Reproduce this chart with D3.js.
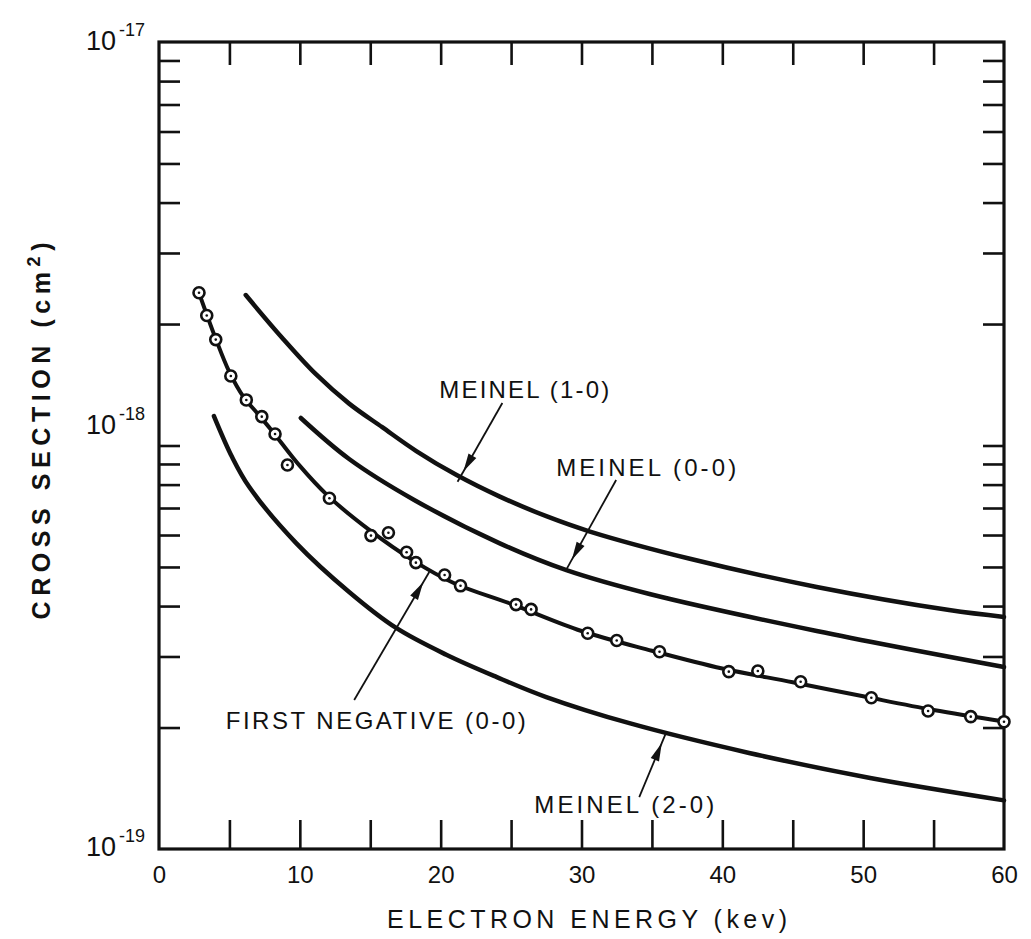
<!DOCTYPE html>
<html><head><meta charset="utf-8">
<script src="https://cdn.jsdelivr.net/npm/d3@7"></script>
<style>body{margin:0;background:#fff}svg text{font-family:"Liberation Sans",Arial,sans-serif;fill:#111}</style>
</head><body><svg id="c" width="1031" height="939"></svg>
<script>
// ---------- data ----------
const energyTickLabels = [0, 10, 20, 30, 40, 50, 60];
const energyMinorTicks = [5, 10, 15, 20, 25, 30, 35, 40, 45, 50, 55];
const decadeLabels = [{v: 1e-17, exp: "-17"}, {v: 1e-18, exp: "-18"}, {v: 1e-19, exp: "-19"}];

// MEINEL (1-0)
const meinel10E = [6.16, 8.74, 11.16, 13.5, 15.85, 18.27, 21.1, 24.2, 27.5, 30.6, 37.7, 46.7, 56.1, 60];
const meinel10S = [2.36e-18, 1.85e-18, 1.50e-18, 1.27e-18, 1.11e-18, 0.969e-18, 0.846e-18, 0.747e-18, 0.668e-18, 0.612e-18, 0.524e-18, 0.446e-18, 0.391e-18, 0.376e-18];
// MEINEL (0-0)
const meinel00E = [10.07, 13.5, 18.12, 24.16, 28.93, 34.83, 46.7, 60];
const meinel00S = [1.17e-18, 0.926e-18, 0.733e-18, 0.573e-18, 0.491e-18, 0.4285e-18, 0.347e-18, 0.2825e-18];
// MEINEL (2-0)
const meinel20E = [3.9, 5.19, 6.4, 9.74, 13.5, 16.84, 20.4, 23.95, 27.5, 33.4, 41.9, 50.5, 60];
const meinel20S = [1.183e-18, 0.936e-18, 0.79e-18, 0.573e-18, 0.4335e-18, 0.353e-18, 0.303e-18, 0.267e-18, 0.238e-18, 0.205e-18, 0.173e-18, 0.150e-18, 0.132e-18];
// FIRST NEGATIVE (0-0) measured points
const firstNegE = [2.84, 3.39, 4.03, 5.10, 6.20, 7.30, 8.24, 9.12, 12.1, 15.05, 16.29, 17.58, 18.24, 20.28, 21.41, 25.35, 26.42, 30.44, 32.5, 35.54, 40.46, 42.52, 45.56, 50.58, 54.61, 57.64, 60];
const firstNegS = [2.39e-18, 2.10e-18, 1.83e-18, 1.487e-18, 1.297e-18, 1.179e-18, 1.068e-18, 0.895e-18, 0.740e-18, 0.598e-18, 0.608e-18, 0.544e-18, 0.5125e-18, 0.4776e-18, 0.449e-18, 0.4034e-18, 0.3925e-18, 0.3424e-18, 0.3286e-18, 0.3083e-18, 0.2751e-18, 0.2762e-18, 0.2598e-18, 0.2371e-18, 0.2198e-18, 0.2128e-18, 0.2068e-18];
// FIRST NEGATIVE (0-0) drawn curve
const firstNegFitE = [2.84, 4, 5, 6, 7, 8, 10, 12, 15, 18, 21, 25, 30, 35, 40, 45, 50, 55, 60];
const firstNegFitS = [2.39e-18, 1.85e-18, 1.52e-18, 1.32e-18, 1.20e-18, 1.09e-18, 0.89e-18, 0.75e-18, 0.615e-18, 0.52e-18, 0.455e-18, 0.405e-18, 0.347e-18, 0.31e-18, 0.28e-18, 0.259e-18, 0.239e-18, 0.221e-18, 0.207e-18];

// annotations (in data units)
const labelTexts = ["MEINEL (1-0)", "MEINEL (0-0)", "FIRST NEGATIVE (0-0)", "MEINEL (2-0)"];
const labelE = [19.9, 28.2, 4.74, 26.65];
const labelS = [1.311e-18, 0.840e-18, 0.1983e-18, 0.1228e-18];
const arrowFromE = [24.38, 32.46, 13.86, 34.1];
const arrowFromS = [1.274e-18, 0.8213e-18, 0.234e-18, 0.1345e-18];
const arrowToE = [21.2, 28.9, 19.19, 36.03];
const arrowToS = [0.813e-18, 0.491e-18, 0.486e-18, 0.195e-18];

// ---------- layout ----------
const labelWidths = [170, 180, 300, 180];
const svg = d3.select("#c");
const x = d3.scaleLinear().domain([0, 60]).range([159, 1004]);
const y = d3.scaleLog().domain([1e-19, 1e-17]).range([849, 42]);
const ink = "#111";

// frame
svg.append("rect").attr("x", x(0)).attr("y", y(1e-17)).attr("width", x(60) - x(0)).attr("height", y(1e-19) - y(1e-17))
  .attr("fill", "none").attr("stroke", ink).attr("stroke-width", 3.2);

// ticks
const yMinor = y.ticks().filter(v => v > 1.01e-19 && v < 0.99e-17);
function styleAxis(g) { g.select(".domain").remove(); g.selectAll(".tick line").attr("stroke", ink).attr("stroke-width", 2.6); g.selectAll(".tick text").remove(); }
svg.append("g").attr("transform", `translate(0,${y(1e-19)})`).call(d3.axisBottom(x).tickValues(energyMinorTicks).tickSize(-29)).call(styleAxis);
svg.append("g").attr("transform", `translate(0,${y(1e-17)})`).call(d3.axisTop(x).tickValues(energyMinorTicks).tickSize(-23)).call(styleAxis);
svg.append("g").attr("transform", `translate(${x(0)},0)`).call(d3.axisLeft(y).tickValues(yMinor).tickSize(-21)).call(styleAxis);
svg.append("g").attr("transform", `translate(${x(60)},0)`).call(d3.axisRight(y).tickValues(yMinor).tickSize(-21)).call(styleAxis);

// x tick labels
const xl = svg.append("g").attr("transform", `translate(0,${y(1e-19)})`)
  .call(d3.axisBottom(x).tickValues(energyTickLabels).tickSize(0).tickPadding(17).tickFormat(d3.format("d")));
xl.select(".domain").remove();
xl.selectAll("text").attr("font-size", 24).attr("font-family", '"Liberation Sans",Arial,sans-serif').attr("fill", ink);

// y decade labels
const decOffsets = [8, -12, 7];
decadeLabels.forEach((d, i) => {
  svg.append("text").attr("x", 116).attr("y", y(d.v) + decOffsets[i]).attr("text-anchor", "end").attr("font-size", 27).text("10");
  svg.append("text").attr("x", 119).attr("y", y(d.v) + decOffsets[i] - 14).attr("font-size", 18).text(d.exp);
});

// axis titles
svg.append("text").attr("x", 587).attr("y", 928).attr("text-anchor", "middle").attr("font-size", 25)
  .attr("textLength", 400).attr("lengthAdjust", "spacing").text("ELECTRON  ENERGY (kev)");
const yt = svg.append("text").attr("transform", "translate(50,431) rotate(-90)").attr("text-anchor", "middle")
  .attr("font-size", 25).attr("font-weight", "bold").attr("textLength", 377).attr("lengthAdjust", "spacing");
yt.append("tspan").text("CROSS SECTION (cm");
yt.append("tspan").attr("dy", -10).attr("font-size", 18).text("2");
yt.append("tspan").attr("dy", 10).text(")");

// curves
const line = d3.line().x(d => x(d[0])).y(d => y(d[1])).curve(d3.curveCatmullRom.alpha(0.5));
const zip = (a, b) => a.map((v, i) => [v, b[i]]);
[[meinel10E, meinel10S], [meinel00E, meinel00S], [meinel20E, meinel20S]].forEach(([e, s]) => {
  svg.append("path").attr("d", line(zip(e, s))).attr("fill", "none").attr("stroke", ink).attr("stroke-width", 4.5).attr("stroke-linecap", "round");
});
svg.append("path").attr("d", line(zip(firstNegFitE, firstNegFitS))).attr("fill", "none").attr("stroke", ink).attr("stroke-width", 4).attr("stroke-linecap", "round");

// data points
const pts = zip(firstNegE, firstNegS);
svg.append("g").selectAll("circle").data(pts).join("circle")
  .attr("cx", d => x(d[0])).attr("cy", d => y(d[1])).attr("r", 5.5).attr("fill", "#fff").attr("stroke", ink).attr("stroke-width", 2.6);
svg.append("g").selectAll("circle").data(pts).join("circle")
  .attr("cx", d => x(d[0])).attr("cy", d => y(d[1])).attr("r", 1.3).attr("fill", ink);

// arrows
labelTexts.forEach((t, i) => {
  const x1 = x(arrowFromE[i]), y1 = y(arrowFromS[i]), x2 = x(arrowToE[i]), y2 = y(arrowToS[i]);
  svg.append("line").attr("x1", x1).attr("y1", y1).attr("x2", x2).attr("y2", y2).attr("stroke", ink).attr("stroke-width", 1.8);
  const len = Math.hypot(x2 - x1, y2 - y1), ux = (x2 - x1) / len, uy = (y2 - y1) / len;
  const tx = x2 - ux * 12, ty = y2 - uy * 12, bx = tx - ux * 18, by = ty - uy * 18;
  svg.append("path").attr("d", `M${tx},${ty}L${bx - uy * 4.5},${by + ux * 4.5}L${bx + uy * 4.5},${by - ux * 4.5}Z`).attr("fill", ink);
  svg.append("text").attr("x", x(labelE[i])).attr("y", y(labelS[i])).attr("font-size", 24)
    .attr("textLength", labelWidths[i]).attr("lengthAdjust", "spacing").text(t);
});
</script></body></html>
